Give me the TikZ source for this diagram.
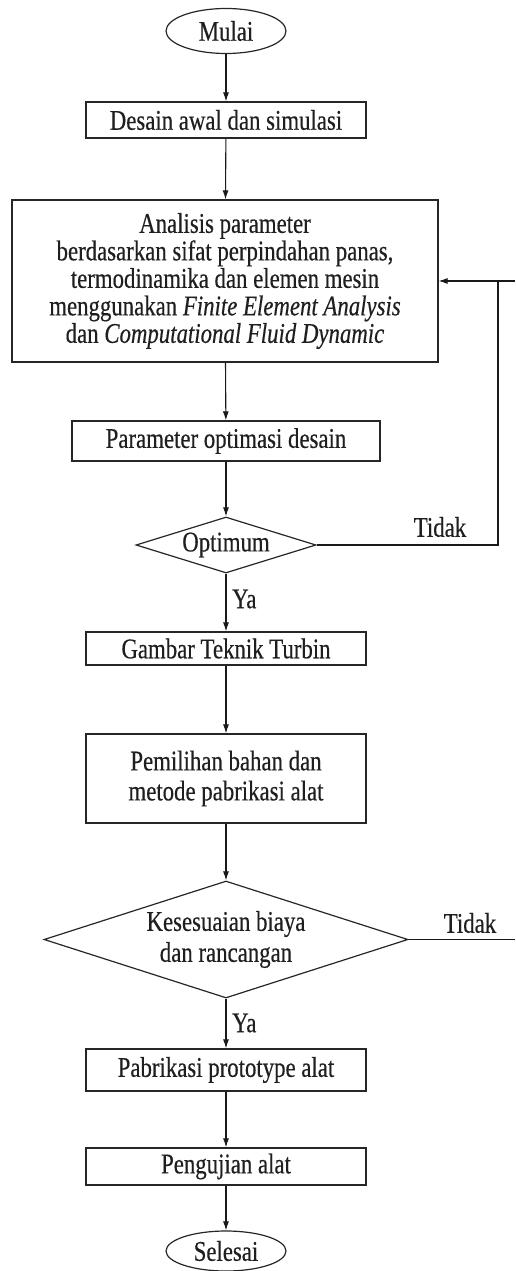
\documentclass[tikz,border=0pt]{standalone}
\usepackage{fontspec}
\setmainfont{Liberation Serif}[FakeStretch=0.8, FakeBold=0.4]
\usetikzlibrary{shapes.geometric,arrows.meta}

\begin{document}
\begin{tikzpicture}[x=1pt,y=-1pt,
  every node/.style={font=\fontsize{28.5}{27.5}\selectfont, text=black!88},
  proc/.style={draw=black!85, rectangle, line width=1.2pt, inner sep=0pt, align=center},
  term/.style={draw=black!85, ellipse, line width=1.2pt, minimum width=120pt, inner sep=0pt},
  dec/.style={draw=black!85, diamond, line width=1.2pt, inner sep=0pt},
  flow/.style={draw=black!90, line width=1.1pt, -{Latex[length=9pt,width=6pt]}},
  link/.style={draw=black!90, line width=1.1pt},
  lbl/.style={inner sep=0pt}]
\useasboundingbox (0,0) rectangle (515,1271);

% main column
\node[term, minimum height=45pt] (mulai) at (226,31) {Mulai};
\node[proc, minimum width=280pt, minimum height=36pt] (desain) at (226,120) {Desain awal dan simulasi};
\node[proc, minimum width=426pt, minimum height=162pt] (analisis) at (225,281)
  {Analisis parameter\\berdasarkan sifat perpindahan panas,\\termodinamika dan elemen mesin\\
   menggunakan \textit{Finite Element Analysis}\\dan \textit{Computational Fluid Dynamic}};
\node[proc, minimum width=308pt, minimum height=40pt] (param) at (226,441) {Parameter optimasi desain};
\node[dec, minimum width=180pt, minimum height=56pt,
      label={[lbl]center:Optimum}] (optimum) at (226,545) {};
\node[proc, minimum width=280pt, minimum height=33pt] (gambar) at (226,648.5) {Gambar Teknik Turbin};
\node[proc, minimum width=280pt, minimum height=89pt,
      font=\fontsize{28.5}{30}\selectfont] (bahan) at (226,778.5) {Pemilihan bahan dan\\metode pabrikasi alat};
\node[dec, minimum width=364pt, minimum height=117pt,
      label={[lbl, align=center, font=\fontsize{28.5}{31}\selectfont]center:Kesesuaian biaya\\dan rancangan}] (biaya) at (226,939.5) {};
\node[proc, minimum width=280pt, minimum height=42pt] (pabrikasi) at (226,1070) {Pabrikasi prototype alat};
\node[proc, minimum width=280pt, minimum height=37pt] (uji) at (226,1166.5) {Pengujian alat};
\node[term, minimum height=40pt] (selesai) at (226,1251) {Selesai};

% straight flow
\draw[flow] (mulai) -- (desain);
\draw[flow] (desain) -- (analisis);
\draw[flow] (analisis) -- (param);
\draw[flow] (param) -- (optimum);
\draw[flow] (optimum) -- (gambar);
\draw[flow] (gambar) -- (bahan);
\draw[flow] (bahan) -- (biaya);
\draw[flow] (biaya) -- (pabrikasi);
\draw[flow] (pabrikasi) -- (uji);
\draw[flow] (uji) -- (selesai);

% feedback lines
\coordinate (backup) at (498,281);
\coordinate (edgetop) at (515,281);
\coordinate (edgelow) at (515,939.5);
\draw[link] (optimum.east) -| (backup);
\draw[flow] (edgetop) -- (analisis.east);
\draw[link] (biaya.east) -- (edgelow);

% branch labels
\node[lbl] (tidak1) at (440,527) {Tidak};
\node[lbl] (tidak2) at (470,923) {Tidak};
\node[lbl, anchor=west] (ya1) at (232,599) {Ya};
\node[lbl, anchor=west] (ya2) at (232,1023) {Ya};
\end{tikzpicture}
\end{document}
